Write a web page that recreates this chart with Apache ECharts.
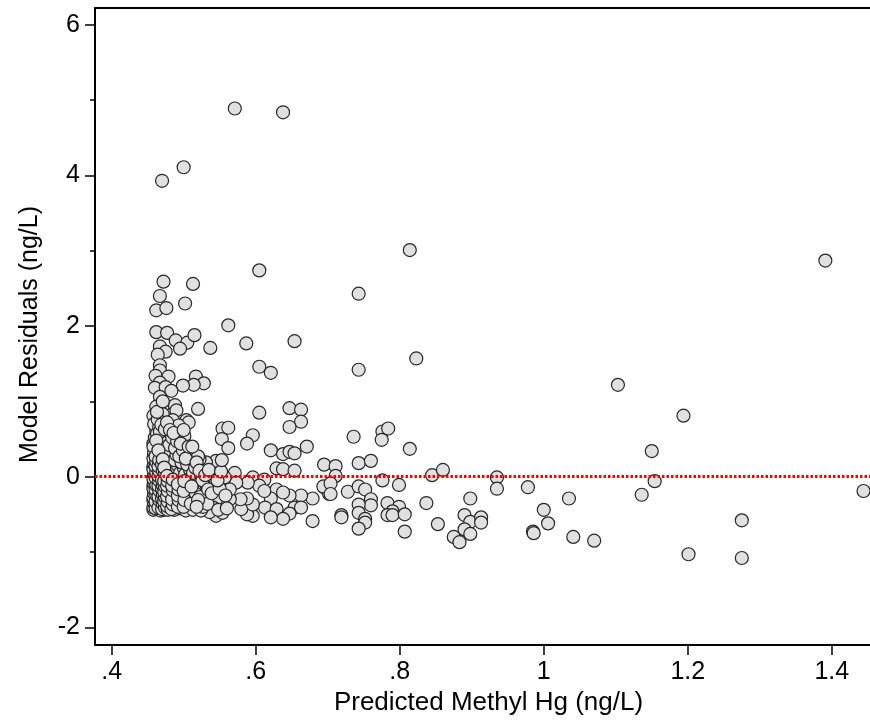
<!DOCTYPE html>
<html>
<head>
<meta charset="utf-8">
<script src="https://cdn.jsdelivr.net/npm/echarts@6/dist/echarts.min.js"></script>
<style>
html,body{margin:0;padding:0;background:#fff;}
#chart{width:870px;height:721px;}
</style>
</head>
<body>
<div id="chart"></div>
<script>
// Predicted methyl Hg (ng/L) for each observation
const predicted = [
0.571,0.638,0.500,0.470,0.814,0.605,0.472,0.513,0.743,0.467,
0.502,0.462,0.476,0.562,0.462,0.477,0.489,0.505,0.515,0.495,
0.537,0.587,0.654,0.823,0.467,0.475,0.464,0.467,0.467,0.461,
0.479,0.605,0.621,0.743,0.517,0.528,0.514,0.499,0.467,0.460,
0.475,0.483,0.467,0.520,0.605,0.647,0.663,0.663,0.647,0.471,
0.488,0.490,0.462,0.458,0.471,0.504,0.507,0.485,0.493,0.554,
0.562,0.736,0.776,0.784,0.596,0.553,0.501,0.476,0.562,0.588,
0.621,0.638,0.647,0.654,0.671,0.695,0.629,0.638,0.654,0.695,
0.702,0.679,0.663,0.647,0.629,0.638,0.621,0.613,0.629,0.654,
0.663,0.647,0.638,0.621,0.679,0.596,0.588,0.580,0.596,0.588,
0.571,0.596,0.612,0.605,0.612,0.579,0.564,0.554,0.545,0.541,
0.545,0.554,0.536,0.543,0.545,0.531,0.522,0.511,0.520,0.589,
0.573,0.564,0.557,0.541,0.529,0.515,0.508,0.522,0.531,0.508,
0.494,0.485,0.775,0.814,0.711,0.711,0.743,0.760,0.776,0.799,
0.845,0.860,0.935,0.935,0.978,1.035,0.898,0.837,0.694,0.704,
0.704,0.728,0.743,0.752,0.760,0.760,0.743,0.743,0.752,0.752,
0.743,0.719,0.719,0.783,0.799,0.790,0.783,0.790,0.807,0.807,
0.853,0.890,0.898,0.913,0.913,0.890,0.898,0.875,0.883,0.985,
0.986,1.000,1.006,1.041,1.391,1.103,1.194,1.150,1.154,1.136,
1.070,1.275,1.201,1.275,1.444,
0.458,0.459,0.458,0.460,0.459,0.458,0.460,0.459,0.461,0.458,
0.460,0.459,0.461,0.458,0.460,0.462,0.459,
0.463,0.464,0.462,0.465,0.463,0.464,0.462,0.465,0.463,0.464,
0.462,0.466,0.463,0.465,0.463,0.466,0.464,0.463,
0.468,0.467,0.469,0.468,0.470,0.467,0.469,0.471,0.468,0.470,
0.467,0.469,0.471,0.468,0.470,0.467,0.469,0.471,
0.473,0.475,0.472,0.476,0.474,0.473,0.476,0.474,0.472,0.477,
0.474,0.475,0.473,0.476,0.474,0.477,
0.479,0.481,0.478,0.483,0.480,0.482,0.479,0.484,0.480,0.483,
0.479,0.482,0.480,0.484,0.481,
0.487,0.489,0.486,0.490,0.488,0.491,0.486,0.489,0.492,0.487,
0.490,0.488,0.491,0.486,
0.495,0.497,0.494,0.499,0.496,0.498,0.495,0.500,0.497,0.494,
0.499,0.496,0.500,
0.503,0.506,0.502,0.508,0.504,0.507,0.502,0.509,0.505,0.503,0.507,
0.513,0.512,0.517,0.514,0.519,0.513,0.516,0.518,0.512,
0.524,0.527,0.523,0.533,0.526,0.534,0.522,0.530,0.535,
0.539,0.548,0.550,0.547,0.552,0.558,0.560,0.553,
0.458,0.459,0.458,0.459,0.458,0.459,0.458,0.459,0.458,0.459,0.458,0.459,0.458,
0.461,0.461,0.462,0.461,0.462,0.461,0.462,0.461,0.462,0.461,0.462,
0.465,0.466,0.465,0.466,0.465,0.466,0.465,0.466,0.465,0.466,0.465,
0.470,0.471,0.470,0.471,0.470,0.471,0.470,0.471,0.470,0.471,
0.474,0.473,0.474,0.473,0.474,0.473,0.474,0.473,
0.478,0.477,0.478,0.477,0.478,0.477,0.478,0.477,
0.483,0.485,0.484,0.485,0.484,0.485,
0.492,0.493,0.492,0.493,0.492,
0.500,0.501,0.500,0.501,
0.510,0.511,0.520,0.518
];
// Model residuals (ng/L), same order
const residuals = [
4.89,4.84,4.11,3.93,3.01,2.74,2.59,2.56,2.43,2.40,
2.30,2.21,2.24,2.01,1.92,1.91,1.81,1.78,1.88,1.70,
1.71,1.77,1.80,1.57,1.73,1.66,1.62,1.48,1.41,1.34,
1.33,1.46,1.38,1.42,1.33,1.24,1.22,1.21,1.25,1.18,
1.19,1.14,1.06,0.90,0.85,0.91,0.89,0.73,0.66,0.94,
0.95,0.88,0.93,0.81,0.83,0.75,0.72,0.75,0.68,0.64,
0.65,0.53,0.60,0.64,0.55,0.50,0.54,0.56,0.38,0.44,
0.35,0.30,0.33,0.31,0.40,0.16,0.11,0.10,0.08,-0.14,
-0.23,-0.29,-0.25,-0.25,-0.17,-0.21,-0.29,-0.41,-0.43,-0.41,
-0.41,-0.49,-0.56,-0.54,-0.59,-0.52,-0.50,-0.43,-0.37,-0.29,
0.05,-0.01,-0.04,-0.12,-0.19,-0.30,-0.30,-0.35,-0.30,-0.41,
-0.52,-0.48,-0.47,0.14,0.21,0.19,0.23,0.32,0.27,-0.08,
-0.08,-0.17,-0.01,-0.10,-0.12,-0.17,-0.30,-0.35,-0.23,-0.41,
-0.35,-0.41,0.49,0.37,0.14,0.01,0.18,0.21,-0.05,-0.11,
0.02,0.09,-0.01,-0.16,-0.14,-0.29,-0.29,-0.35,-0.13,-0.09,
-0.23,-0.20,-0.13,-0.17,-0.30,-0.38,-0.37,-0.48,-0.56,-0.61,
-0.69,-0.51,-0.54,-0.35,-0.40,-0.46,-0.51,-0.51,-0.50,-0.73,
-0.63,-0.51,-0.60,-0.54,-0.61,-0.70,-0.76,-0.80,-0.87,-0.73,
-0.75,-0.44,-0.62,-0.80,2.87,1.22,0.81,0.34,-0.06,-0.24,
-0.85,-0.58,-1.03,-1.08,-0.19,
-0.44,-0.38,-0.31,-0.25,-0.19,-0.12,-0.06,0.01,0.07,0.13,
0.21,0.28,0.36,0.44,0.52,0.61,0.70,
-0.43,-0.35,-0.28,-0.22,-0.15,-0.09,-0.03,0.04,0.10,0.17,
0.24,0.31,0.39,0.47,0.57,0.66,0.76,0.86,
-0.45,-0.40,-0.33,-0.26,-0.20,-0.14,-0.07,-0.01,0.05,0.12,
0.19,0.26,0.34,0.42,0.50,0.60,0.69,1.00,
-0.44,-0.37,-0.30,-0.24,-0.17,-0.10,-0.04,0.03,0.09,0.15,
0.22,0.30,0.37,0.45,0.63,0.72,
-0.42,-0.36,-0.29,-0.23,-0.16,-0.09,-0.02,0.04,0.11,0.18,
0.25,0.33,0.42,0.52,0.62,
-0.44,-0.33,-0.27,-0.21,-0.13,-0.06,0.01,0.08,0.15,0.22,
0.29,0.38,0.47,0.58,
-0.42,-0.28,-0.22,-0.15,-0.08,-0.02,0.05,0.12,0.19,0.27,
0.35,0.44,0.62,
-0.45,-0.38,-0.24,-0.19,-0.11,-0.04,0.03,0.09,0.16,0.24,0.40,
-0.44,-0.28,-0.23,-0.08,-0.02,0.05,0.12,0.19,0.40,
-0.45,-0.40,-0.27,-0.36,-0.05,-0.17,0.08,0.02,0.09,
-0.22,-0.44,-0.16,-0.05,0.07,-0.25,-0.42,0.22,
-0.41,-0.35,-0.28,-0.22,-0.16,-0.09,-0.03,0.04,0.10,0.17,0.24,0.32,0.40,
-0.42,-0.33,-0.24,-0.17,-0.11,-0.01,0.06,0.14,0.20,0.27,0.48,
-0.41,-0.31,-0.26,-0.18,-0.12,-0.05,0.01,0.08,0.14,0.22,0.35,
-0.43,-0.36,-0.29,-0.23,-0.16,-0.11,-0.04,0.08,0.16,0.23,
-0.41,-0.33,-0.27,-0.20,-0.13,-0.06,0.06,0.12,
-0.44,-0.39,-0.33,-0.26,-0.19,-0.12,-0.06,0.01,
-0.43,-0.37,-0.30,-0.18,-0.12,-0.04,
-0.40,-0.31,-0.25,-0.17,-0.10,
-0.40,-0.31,-0.19,-0.06,
-0.36,-0.13,-0.31,-0.40
];
const xTickValues = [0.4, 0.6, 0.8, 1, 1.2, 1.4];
const xTickLabels = ['.4', '.6', '.8', '1', '1.2', '1.4'];
const yTickValues = [-2, 0, 2, 4, 6];
const yMinorTicks = [-1, 1, 3, 5];
const referenceLine = 0;

const points = predicted.map((x, i) => [x, residuals[i]]);
const FONT = '"Liberation Sans", Arial, Helvetica, sans-serif';
const X_MIN = 0.3769, X_MAX = 1.453, Y_MIN = -2.237, Y_MAX = 6.225;

const chart = echarts.init(document.getElementById('chart'), null, {renderer: 'canvas'});
chart.setOption({
  animation: false,
  backgroundColor: '#ffffff',
  grid: {left: 95, right: -3, top: 8, bottom: 75},
  xAxis: [{
    type: 'value', min: X_MIN, max: X_MAX,
    name: 'Predicted Methyl Hg (ng/L)', nameLocation: 'middle', nameGap: 42,
    nameTextStyle: {fontFamily: FONT, fontSize: 26, color: '#000', padding: [0, 0, 0, 12]},
    axisLine: {show: true, onZero: false, lineStyle: {color: '#000', width: 2}},
    axisTick: {show: true, length: 10, customValues: xTickValues, lineStyle: {color: '#000', width: 1.5}},
    axisLabel: {show: true, margin: 15, customValues: xTickValues, fontFamily: FONT, fontSize: 25, color: '#000',
      formatter: v => { const i = xTickValues.findIndex(t => Math.abs(t - v) < 1e-9); return i >= 0 ? xTickLabels[i] : ''; }},
    splitLine: {show: false}
  }, {
    type: 'value', min: X_MIN, max: X_MAX, position: 'top',
    axisLine: {show: true, onZero: false, lineStyle: {color: '#000', width: 2}},
    axisTick: {show: false}, axisLabel: {show: false}, splitLine: {show: false}
  }],
  yAxis: [{
    type: 'value', min: Y_MIN, max: Y_MAX,
    name: 'Model Residuals (ng/L)', nameLocation: 'middle', nameGap: 52, nameRotate: 90,
    nameTextStyle: {fontFamily: FONT, fontSize: 25, color: '#000', padding: [0, 16, 0, 0]},
    axisLine: {show: true, onZero: false, lineStyle: {color: '#000', width: 2}},
    axisTick: {show: true, length: 10, customValues: yTickValues, lineStyle: {color: '#000', width: 1.5}},
    axisLabel: {show: true, margin: 15, customValues: yTickValues, fontFamily: FONT, fontSize: 25, color: '#000'},
    splitLine: {show: false}
  }, {
    type: 'value', min: Y_MIN, max: Y_MAX, position: 'left', offset: 0,
    axisLine: {show: false},
    axisTick: {show: true, length: 5, customValues: yMinorTicks, lineStyle: {color: '#000', width: 1.5}},
    axisLabel: {show: false},
    splitLine: {show: false}
  }],
  series: [{
    type: 'scatter',
    data: points,
    symbol: 'circle',
    symbolSize: 13,
    itemStyle: {color: '#e0e0e0', borderColor: '#262626', borderWidth: 1.2, opacity: 1},
    z: 2
  }, {
    type: 'scatter',
    data: [],
    z: 5,
    markLine: {
      silent: true, symbol: 'none', label: {show: false},
      lineStyle: {color: '#ff0000', width: 3, type: [2.5, 2]},
      data: [{yAxis: referenceLine}],
      animation: false
    }
  }]
});
</script>
</body>
</html>
